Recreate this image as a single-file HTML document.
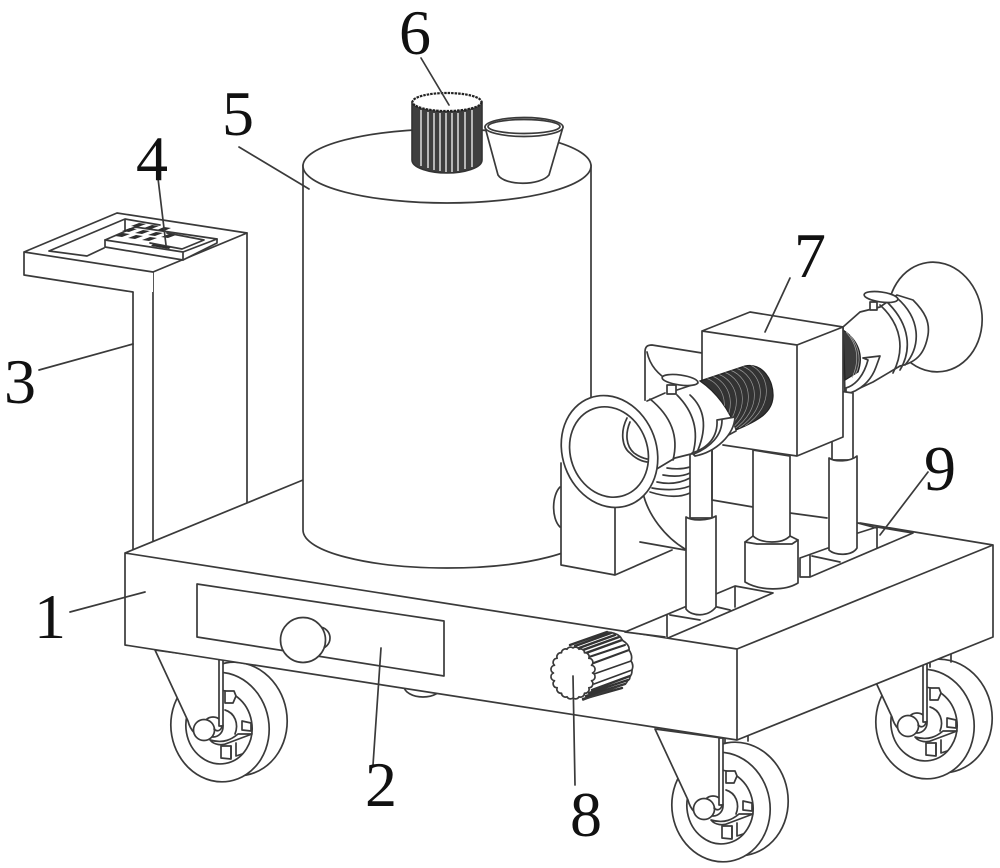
<!DOCTYPE html>
<html><head><meta charset="utf-8"><style>
html,body{margin:0;padding:0;background:#fff}
svg{display:block}
text{font-family:"Liberation Serif",serif;font-size:64px;fill:#111;text-anchor:middle}
.l{fill:#fff;stroke:#3a3a3a;stroke-width:1.7;stroke-linejoin:round;stroke-linecap:round}
.n{fill:none;stroke:#3a3a3a;stroke-width:1.7;stroke-linejoin:round;stroke-linecap:round}
</style></head><body>
<svg width="1000" height="868" viewBox="0 0 1000 868" xmlns="http://www.w3.org/2000/svg">
<defs>
<clipPath id="wc"><path d="M700,381L745,366C762,362 774,380 773,397C772,412 760,420 736,430C730,410 716,392 700,381z"/></clipPath>
<g id="wheel">
<ellipse class="l" cx="737" cy="799" rx="51" ry="57" transform="rotate(-10 737 799)"/>
<ellipse class="l" cx="721" cy="807" rx="49" ry="55" transform="rotate(-10 721 807)"/>
<ellipse class="l" cx="720" cy="807" rx="33" ry="37" transform="rotate(-10 720 807)"/>
<path class="l" d="M726,771h9l2,5-3,7h-8z"/>
<path class="l" d="M743,801l9,2v8l-9,-1z"/>
<path class="l" d="M722,826h10v13l-10,-1z"/>
<path class="n" d="M732,826v12M737,823v13l6,-2"/>
<path class="l" d="M711,820c14,4 22,-1 28,-6l14,0 -24,9c-6,3 -14,2 -18,-3z"/>
<path class="n" d="M726,790c10,3 14,14 10,24"/>
</g>
<g id="bracket">
<path class="l" d="M655,729L688,800c2,8 8,18 20,16l14,-10V738z"/>
<circle class="l" cx="713" cy="806" r="10"/>
<circle class="l" cx="704" cy="809" r="10.5"/>
<rect class="l" x="719" y="738" width="4" height="67"/>
<path class="n" d="M722,805c-1,5 -5,6 -8,3"/>
</g>
</defs>
<rect width="1000" height="868" fill="#fff"/>

<!-- stand 3 -->
<path d="M133,280V550H247V233L153,272z" fill="#fff"/>
<path class="n" d="M133,292V550M153,272V548M247,233V505"/>
<path d="M24,252L117,213L247,233L153,272L153,292 133,292 24,275z" fill="#fff"/>
<path class="n" d="M133,292L24,275V252L117,213L247,233L153,272L24,252"/>
<path class="n" d="M49,251L125,219L160,225M49,251L87,256L104,248M125,219V231"/>
<path class="l" d="M105,240L135,227L217,239V243L183,260L105,247z"/>
<path class="n" d="M105,240L183,252L217,239M183,252V260M167,233L204,240L182,249L150,243"/>
<g fill="#2e2e2e">
<path d="M115,236l8,-3 7,1 -8,3zM128,238l8,-3 7,1 -8,3zM142,240l8,-3 7,1 -8,3zM122,231l8,-3 7,1 -8,3zM135,233l8,-3 7,1 -8,3zM148,235l8,-3 7,1 -8,3zM161,237l8,-3 7,1 -8,3zM131,226l8,-3 7,1 -8,3zM144,228l8,-3 7,1 -8,3zM157,230l7,-3 7,1 -7,3zM153,244l18,3 -2,2 -18,-3z"/>
</g>

<!-- wheels -->
<use href="#wheel" transform="translate(204 -83)"/>
<use href="#bracket" transform="translate(204 -83)"/>
<path class="n" d="M930,655v12M951,650v12"/>
<ellipse class="n" cx="423" cy="686" rx="19" ry="11"/>
<use href="#wheel" transform="translate(-501 -80)"/>
<use href="#bracket" transform="translate(-500 -79)"/>
<path class="n" d="M725,735v8M748,735v6"/>
<use href="#wheel"/>
<use href="#bracket"/>

<!-- base -->
<path d="M125,553L303,480L860,523L993,545V637L737,740L125,645z" fill="#fff"/>
<path class="n" d="M303,480L125,553V645L737,740L993,637V545L860,523M125,553L737,649L993,545M737,649V740"/>
<path class="l" d="M197,584L444,621V676L197,637z"/>
<circle class="l" cx="319" cy="638" r="11"/>
<circle class="l" cx="303" cy="640" r="22.500"/>

<!-- cylinder 5 -->
<path class="l" d="M303,165V530C303,552 370,568 447,568C524,568 591,552 591,530V165z"/>
<ellipse class="l" cx="447" cy="166" rx="144" ry="37"/>

<!-- knob 6 -->
<path d="M412,102V160C412,168 430,173 447,173C464,173 482,168 482,160V102z" fill="#3f3f3f" stroke="#333" stroke-width="1.600"/>
<path stroke="#ddd" stroke-width="1.500" fill="none" d="M421,110V166M428,112V168M434,113V170M440,113V171M446,113V172M452,113V172M458,113V171M465,112V169M472,110V167"/>
<ellipse cx="447" cy="102" rx="34.500" ry="9" fill="#fff" stroke="#222" stroke-width="2.200" stroke-dasharray="2.500 1"/>

<!-- cup -->
<path class="l" d="M485,127L498,175C505,186 540,186 549,175L563,127z"/>
<ellipse class="l" cx="524" cy="127" rx="39" ry="9.500"/>
<ellipse class="n" cx="524" cy="126.500" rx="36" ry="7" stroke-width="1"/>

<!-- rear shell -->
<path d="M702,353L652,345C647,345 645,347 645,352V410L700,440z" fill="#fff"/>
<path class="n" d="M702,353L652,345C647,345 645,347 645,352V402"/>
<path class="n" d="M647,352C650,366 658,374 670,382"/>

<!-- motor block -->
<path class="n" d="M560,487C552,495 551,518 560,527"/>
<path d="M561,463V565L615,575L672,550L700,500V463z" fill="#fff"/>
<path class="n" d="M561,463V565L615,575L672,550M615,505V575"/>
<path class="n" d="M643,493C648,515 665,537 685,549M640,542L685,550"/>
<path class="n" d="M667,468Q680,470 690,467M663,475Q680,478 690,473M657,482Q675,486 690,478M652,488Q675,492 690,486M650,492Q675,500 690,493" stroke-width="1.500"/>
<path class="n" d="M712,500L753,507M790,513L827,518"/>

<!-- right flare -->
<ellipse class="l" cx="935" cy="317" rx="47" ry="55" transform="rotate(-8 935 317)"/>
<path class="l" d="M843,327L860,312L880,307L897,295L913,300C925,312 930,322 928,335C925,352 918,362 900,366L873,382L845,395z"/>
<path class="n" d="M880,305C902,325 905,350 893,373M897,298C920,318 922,345 905,365M888,303C910,325 912,350 900,370"/>
<path d="M843,330C858,340 864,355 858,372L845,380z" fill="#3c3c3c" stroke="#222" stroke-width="1.300"/>
<path d="M846,332C858,345 860,360 852,378M850,335C860,348 862,362 855,375" stroke="#aaa" stroke-width=".7" fill="none"/>
<path class="l" d="M863,358L880,356L876,367C871,381 860,391 846,394V388C856,385 864,375 868,360z"/>
<ellipse class="l" cx="881" cy="297" rx="17" ry="5" transform="rotate(8 881 297)"/>
<rect class="l" x="870" y="302" width="7" height="8"/>

<!-- slots -->
<path d="M625,632L735,586L773,593L668,638z" fill="#fff"/>
<path class="n" d="M625,632L735,586L773,593L668,638M625,632L665,637M667,615V637M735,586V607M670,615L700,620M717,607L730,610"/>
<path d="M800,558L877,527L913,533L810,577H800z" fill="#fff"/>
<path class="n" d="M800,558L828,548M858,533L877,527L913,533L810,577L800,577V558M810,555V577M812,556L840,562M877,527V548M858,523L877,528"/>

<!-- right leg -->
<path class="l" d="M832,390V460H853V393z"/>
<path class="l" d="M829,458C835,462 850,462 857,456V548C852,556 835,556 829,550z"/>

<!-- middle leg -->
<path class="l" d="M753,450V540C760,546 785,546 790,540V456z"/>
<path class="l" d="M745,542L753,536C762,544 782,544 790,536L798,540V583C785,591 760,591 745,582z"/>
<path class="n" d="M745,542L757,544H792L798,540"/>

<!-- left leg -->
<path class="l" d="M690,450V518H712V447z"/>
<path class="n" d="M712,445V500"/>
<path class="l" d="M686,517C692,521 708,521 716,516V607C708,617 692,617 686,609z"/>

<!-- box 7 -->
<path d="M702,331L750,312L843,327V437L797,456L702,440z" fill="#fff"/>
<path class="n" d="M702,440V331L750,312L843,327V437L797,456L723,445M702,331L797,345L843,327M797,345V456"/>

<!-- left tube -->
<path d="M605,397L647,401L665,393L698,385L702,380L732,413L738,430L695,453L675,458L650,485L610,505z" fill="#fff"/>
<path class="n" d="M647,401L665,393M677,390L698,383M655,470L675,458L695,453L736,431"/>
<path class="n" d="M650,399Q682,425 673,460M677,395Q702,420 693,453M690,395Q712,415 698,450"/>

<!-- worm -->
<path d="M700,381L745,366C762,362 774,380 773,397C772,412 760,420 736,430C730,410 716,392 700,381z" fill="#333" stroke="#222" stroke-width="1.200"/>
<g clip-path="url(#wc)" fill="none" stroke="#999" stroke-width=".7">
<path d="M748,364C770,372 776,405 745,426M742,366C764,374 770,407 739,428M736,368C758,376 764,409 733,430M730,370C752,378 758,411 727,432M724,372C746,380 752,413 721,434M718,374C740,382 746,415 715,436M712,376C734,384 740,417 709,438M706,378C728,386 734,419 703,440"/>
</g>
<!-- clamp -->
<path class="l" d="M717,420L735,417C734,435 716,452 695,456L692,453C708,448 718,437 717,420z"/>
<path class="n" d="M722,420C722,435 711,447 694,454"/>
<ellipse class="l" cx="680" cy="380" rx="18" ry="5" transform="rotate(8 680 380)"/>
<rect class="l" x="667" y="385" width="9" height="9"/>

<!-- ring -->
<ellipse class="l" cx="609.500" cy="451.500" rx="47" ry="57" transform="rotate(-20 609.500 451.500)"/>
<ellipse class="l" cx="609" cy="452" rx="38.500" ry="46" transform="rotate(-20 609 452)"/>
<path class="n" d="M627,418C620,432 622,447 630,453C635,458 640,461 647,462"/>
<path class="n" d="M630,422C625,434 626,446 634,453C638,456 642,458 647,459"/>

<!-- knob 8 -->
<path d="M568,645L605,632L620,637L632,660L624,688L583,700z" fill="#fff"/>
<g stroke="#333" fill="none" stroke-linecap="round">
<path stroke-width="2.400" d="M570,645L607,632M575,646L611,633M579,648L615,635M583,650L619,637M586,653L622,640"/>
<path stroke-width="2" d="M589,657L625,645M591,664L629,650"/>
<path stroke-width="1.700" d="M594,674L631,661M594,684L632,670"/>
<path stroke-width="2.400" d="M592,690L630,676M589,693L628,680M586,696L625,684M583,699L622,688"/>
</g>
<path class="n" d="M607,632Q620,633 622,640Q630,645 629,650Q633,656 631,661Q634,665 632,670Q632,675 630,676Q630,680 628,680Q626,684 625,684L583,700"/>
<path class="l" stroke-width="1.900" d="M592.5,673A4,4 0 0 1 591.5,680.7A4,4 0 0 1 588.8,687.7A4,4 0 0 1 584.5,693.2A4,4 0 0 1 579,696.8A4,4 0 0 1 573,698A4,4 0 0 1 567,696.8A4,4 0 0 1 561.5,693.2A4,4 0 0 1 557.2,687.7A4,4 0 0 1 554.5,680.7A4,4 0 0 1 553.5,673A4,4 0 0 1 554.5,665.3A4,4 0 0 1 557.2,658.3A4,4 0 0 1 561.5,652.8A4,4 0 0 1 567,649.2A4,4 0 0 1 573,648A4,4 0 0 1 579,649.2A4,4 0 0 1 584.5,652.8A4,4 0 0 1 588.8,658.3A4,4 0 0 1 591.5,665.3A4,4 0 0 1 592.5,673z"/>

<!-- leaders -->
<path class="n" d="M421,58L449,105"/>
<path class="n" d="M239,147L309,189"/>
<path class="n" d="M157,170L166,245"/>
<path class="n" d="M39,370L133,344"/>
<path class="n" d="M790,278L765,332"/>
<path class="n" d="M928,472L880,535"/>
<path class="n" d="M70,612L145,592"/>
<path class="n" d="M381,648L373,765"/>
<path class="n" d="M573,676L575,785"/>
<text x="415" y="54">6</text>
<text x="238" y="135">5</text>
<text x="152" y="180">4</text>
<text x="20" y="403">3</text>
<text x="810" y="277">7</text>
<text x="940" y="490">9</text>
<text x="50" y="638">1</text>
<text x="381" y="806">2</text>
<text x="586" y="836">8</text>
</svg>
</body></html>
